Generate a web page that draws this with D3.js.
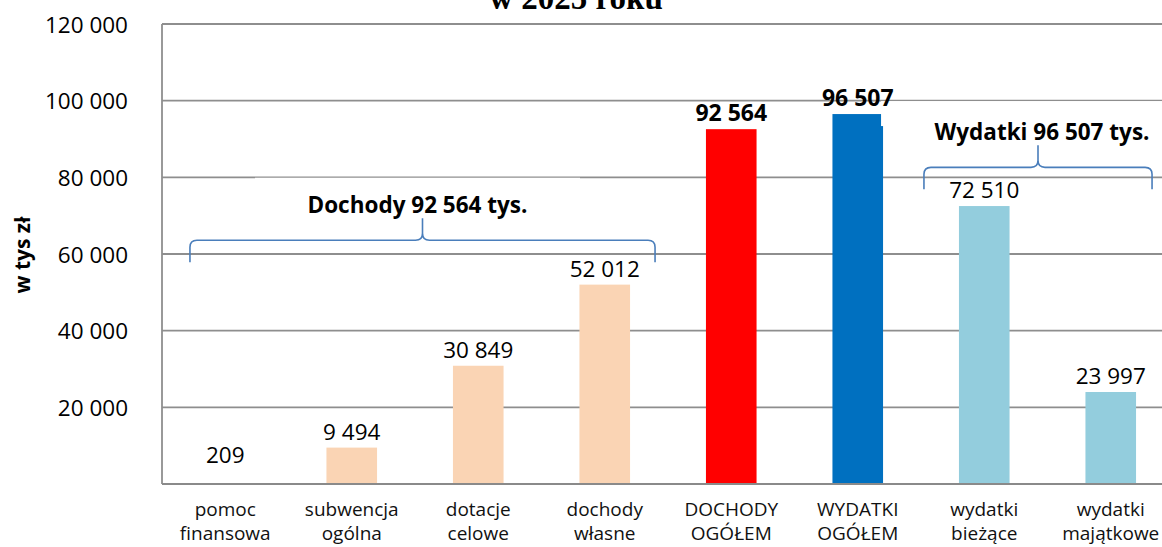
<!DOCTYPE html>
<html>
<head>
<meta charset="utf-8">
<script src="https://d3js.org/d3.v7.min.js"></script>
<style>
  body { margin: 0; background: #fff; overflow: hidden; }
  svg { display: block; }
</style>
</head>
<body>
<svg id="chart"></svg>
<script>
// data (tys. zł)
const categories = [
    ["pomoc", "finansowa"],
    ["subwencja", "ogólna"],
    ["dotacje", "celowe"],
    ["dochody", "własne"],
    ["DOCHODY", "OGÓŁEM"],
    ["WYDATKI", "OGÓŁEM"],
    ["wydatki", "bieżące"],
    ["wydatki", "majątkowe"]
];
const values = [209, 9494, 30849, 52012, 92564, 96507, 72510, 23997];
const barColors = ["#fad4b4", "#fad4b4", "#fad4b4", "#fad4b4", "#ff0000", "#0070c0", "#93cddd", "#93cddd"];
const boldLabels = [false, false, false, false, true, true, false, false];
const yTicks = [20000, 40000, 60000, 80000, 100000, 120000];
const groups = [
    { text: "Dochody 92 564 tys.", from: 0, to: 3, level: 63600 },
    { text: "Wydatki 96 507 tys.", from: 6, to: 7, level: 82600 }
];
const titleText = "w 2025 roku";
const yTitle = "w tys zł";

const width = 1162, height = 547;
const mLeft = 162, mRight = 1174, mTop = 24, mBottom = 484;

let svg = d3.select("#chart")
    .attr("width", width)
    .attr("height", height);

// polish number format: space as thousands separator
const pl = d3.formatLocale({ decimal: ",", thousands: " ", grouping: [3], currency: ["", " zł"] });
const fmt = pl.format(",d");

let x = d3.scaleBand()
    .domain(d3.range(categories.length))
    .range([mLeft, mRight])
    .paddingInner(0.6)
    .paddingOuter(0.3);

let y = d3.scaleLinear()
    .domain([0, 120000])
    .range([mBottom, mTop]);

const font = "'Open Sans', 'Noto Sans', sans-serif";

// gridlines
svg.append("g")
    .selectAll("line")
    .data(yTicks)
    .enter().append("line")
    .attr("x1", mLeft).attr("x2", mRight)
    .attr("y1", d => y(d)).attr("y2", d => y(d))
    .attr("stroke", "#8e8e8e")
    .attr("stroke-width", 1.8);

// y axis labels
let yAxis = svg.append("g")
    .attr("transform", "translate(" + (mLeft - 34) + ",0)")
    .call(d3.axisLeft(y).tickValues(yTicks).tickFormat(fmt).tickSize(0).tickPadding(0));
yAxis.select(".domain").remove();
yAxis.selectAll("text")
    .attr("dy", "0.36em")
    .style("font-family", font)
    .style("font-size", "22.5px")
    .attr("fill", "#000");

// plot frame: left side
svg.append("line")
    .attr("x1", mLeft).attr("x2", mLeft)
    .attr("y1", mTop).attr("y2", mBottom)
    .attr("stroke", "#8e8e8e").attr("stroke-width", 1.8);

// bars
svg.append("g")
    .selectAll("rect")
    .data(values)
    .enter().append("rect")
    .attr("x", (d, i) => x(i))
    .attr("y", d => y(d))
    .attr("width", x.bandwidth())
    .attr("height", d => mBottom - y(d))
    .attr("fill", (d, i) => barColors[i]);

svg.append("line")
    .attr("x1", mLeft).attr("x2", mRight)
    .attr("y1", mBottom).attr("y2", mBottom)
    .attr("stroke", "#8a8a8a").attr("stroke-width", 2.2);

// white text box backgrounds that cover parts of the gridlines
svg.append("rect")
    .attr("x", 255).attr("y", y(80000) + 0.4)
    .attr("width", 325).attr("height", 50)
    .attr("fill", "#fff");
svg.append("rect")
    .attr("x", x(5) + x.bandwidth() - 2).attr("y", y(100000) + 0.4)
    .attr("width", 300).attr("height", 25)
    .attr("fill", "#fff");

// value labels (kept clear of the axis for tiny bars)
svg.append("g")
    .selectAll("text")
    .data(values)
    .enter().append("text")
    .attr("x", (d, i) => x(i) + x.bandwidth() / 2)
    .attr("y", d => Math.min(y(d) - 8, mBottom - 21))
    .attr("text-anchor", "middle")
    .style("font-family", font)
    .style("font-size", (d, i) => boldLabels[i] ? "23px" : "22.5px")
    .style("font-weight", (d, i) => boldLabels[i] ? "bold" : "normal")
    .text(d => fmt(d));

// category labels, two lines each
let cats = svg.append("g")
    .selectAll("text")
    .data(categories)
    .enter().append("text")
    .attr("text-anchor", "middle")
    .style("font-family", font)
    .style("font-size", "19px")
    .attr("fill", "#111");
cats.selectAll("tspan")
    .data((d, i) => d.map(t => ({ t: t, i: i })))
    .enter().append("tspan")
    .attr("x", d => x(d.i) + x.bandwidth() / 2)
    .attr("y", (d, k) => 516 + k * 24)
    .text(d => d.t);

// braces
function brace(x0, x1, yf, h) {
    let xm = (x0 + x1) / 2, r = 7;
    return "M" + x0 + "," + (yf + h) +
        "L" + x0 + "," + (yf + r) +
        "Q" + x0 + "," + yf + " " + (x0 + r) + "," + yf +
        "L" + (xm - r) + "," + yf +
        "Q" + xm + "," + yf + " " + xm + "," + (yf - r) +
        "L" + xm + "," + (yf - h) +
        "M" + xm + "," + (yf - r) +
        "Q" + xm + "," + yf + " " + (xm + r) + "," + yf +
        "L" + (x1 - r) + "," + yf +
        "Q" + x1 + "," + yf + " " + x1 + "," + (yf + r) +
        "L" + x1 + "," + (yf + h);
}

let bx = [
    [x(groups[0].from) - 10, x(groups[0].to) + x.bandwidth() + 25],
    [x(groups[1].from) - 35, x(groups[1].to) + x.bandwidth() + 16]
];
let labelDx = [-5, 4];

groups.forEach(function (g, i) {
    let yf = y(g.level);
    svg.append("path")
        .attr("d", brace(bx[i][0], bx[i][1], yf, 22))
        .attr("fill", "none")
        .attr("stroke", "#4a7ebb")
        .attr("stroke-width", 1.6);
    svg.append("text")
        .attr("x", (bx[i][0] + bx[i][1]) / 2 + labelDx[i])
        .attr("y", yf - 27)
        .attr("text-anchor", "middle")
        .style("font-family", font)
        .style("font-size", "22.5px")
        .style("font-weight", "bold")
        .text(g.text);
});

// y axis title
svg.append("text")
    .attr("transform", "translate(30,255) rotate(-90)")
    .attr("text-anchor", "middle")
    .style("font-family", font)
    .style("font-size", "21px")
    .style("font-weight", "bold")
    .text(yTitle);

// chart title (cut at the top edge)
svg.append("text")
    .attr("x", width / 2 - 5)
    .attr("y", 9)
    .attr("text-anchor", "middle")
    .style("font-family", "'Liberation Serif', 'Times New Roman', serif")
    .style("font-size", "33px")
    .style("font-weight", "bold")
    .text(titleText);
</script>
</body>
</html>
